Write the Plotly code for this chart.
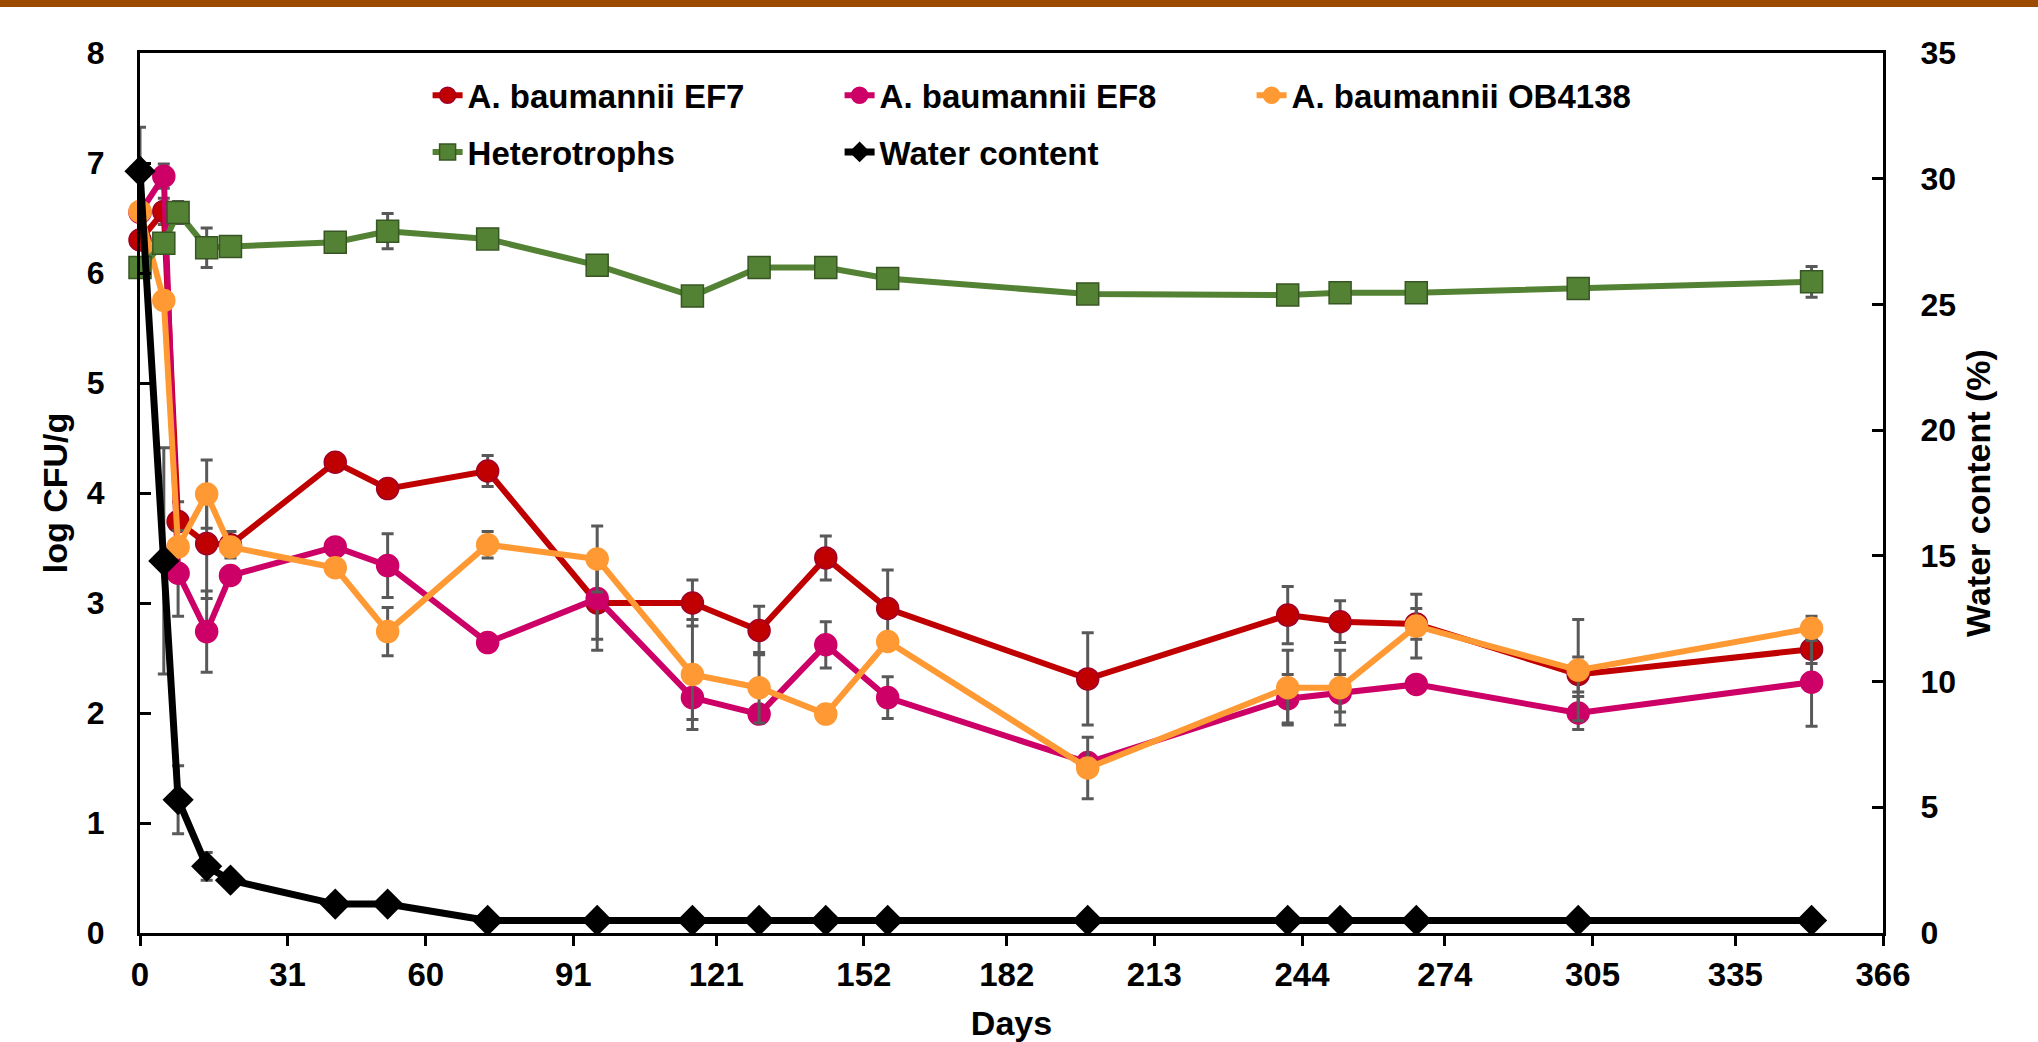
import plotly.graph_objects as go

# ---------------- data ----------------
days = [0, 5, 8, 14, 19, 41, 52, 73, 96, 116, 130, 144, 157, 199, 241, 252, 268, 302, 351]

ef7 = [6.30, 6.56, 3.74, 3.54, 3.53, 4.28, 4.04, 4.20, 3.00, 3.00, 2.75, 3.41, 2.95, 2.31, 2.89, 2.83, 2.81, 2.35, 2.58]
ef7_err = [0.05, 0.12, 0.18, 0.50, 0.12, 0.04, 0.05, 0.14, 0.43, 0.21, 0.22, 0.20, 0.35, 0.42, 0.26, 0.19, 0.14, 0.16, 0.13]

ef8 = [6.55, 6.88, 3.27, 2.74, 3.25, 3.51, 3.34, 2.64, 3.04, 2.14, 1.99, 2.62, 2.14, 1.55, 2.13, 2.18, 2.26, 2.00, 2.28]
ef8_err = [0.05, 0.11, 0.39, 0.37, 0.05, 0.05, 0.29, 0.05, 0.37, 0.20, 0.05, 0.21, 0.19, 0.05, 0.22, 0.17, 0.05, 0.15, 0.40]

ob4138 = [6.56, 5.75, 3.51, 3.99, 3.51, 3.32, 2.74, 3.53, 3.40, 2.35, 2.23, 1.99, 2.65, 1.50, 2.23, 2.23, 2.79, 2.39, 2.77]
ob4138_err = [0.05, 0.05, 0.05, 0.31, 0.05, 0.05, 0.22, 0.12, 0.30, 0.50, 0.32, 0.05, 0.05, 0.28, 0.34, 0.34, 0.29, 0.46, 0.11]

hetero = [6.05, 6.27, 6.55, 6.23, 6.24, 6.28, 6.38, 6.31, 6.07, 5.79, 6.05, 6.05, 5.95, 5.81, 5.80, 5.82, 5.82, 5.86, 5.92]
hetero_err = [0.03, 0.03, 0.10, 0.18, 0.03, 0.07, 0.16, 0.03, 0.07, 0.08, 0.03, 0.03, 0.03, 0.03, 0.03, 0.03, 0.03, 0.03, 0.14]

water = [30.3, 14.8, 5.3, 2.65, 2.1, 1.15, 1.15, 0.5, 0.5, 0.5, 0.5, 0.5, 0.5, 0.5, 0.5, 0.5, 0.5, 0.5, 0.5]
water_err = [1.75, 4.5, 1.35, 0.55, 0.1, 0.1, 0.1, 0, 0, 0, 0, 0, 0, 0, 0, 0, 0, 0, 0]

x_ticks = [0, 31, 60, 91, 121, 152, 182, 213, 244, 274, 305, 335, 366]

# ---------------- style ----------------
FONT = "Liberation Sans, Arial, sans-serif"
ERR_COLOR = "#595959"

def err(vals):
    return dict(type="data", array=vals, visible=True, color=ERR_COLOR, thickness=3, width=6)

fig = go.Figure()

series = [
    ("A. baumannii EF7", ef7, ef7_err, "#C00000", "#A00028", "circle", "legend"),
    ("A. baumannii EF8", ef8, ef8_err, "#CC0066", "#CC0066", "circle", "legend"),
    ("A. baumannii OB4138", ob4138, ob4138_err, "#FF9933", "#FF9933", "circle", "legend"),
    ("Heterotrophs", hetero, hetero_err, "#548235", "#375623", "square", "legend2"),
]
for name, vals, e, col, edge, sym, leg in series:
    fig.add_trace(go.Scatter(
        x=days, y=vals, name=name, mode="lines+markers",
        line=dict(color=col, width=6),
        marker=dict(symbol=sym, size=22, color=col, line=dict(color=edge, width=1.5)),
        error_y=err(e), cliponaxis=False, legend=leg,
    ))

fig.add_trace(go.Scatter(
    x=days, y=water, name="Water content", mode="lines+markers", yaxis="y2",
    line=dict(color="black", width=7),
    marker=dict(symbol="diamond", size=24, color="black"),
    error_y=err(water_err), cliponaxis=False, legend="legend2",
))

tick_font = dict(family=FONT, size=32, color="black", weight="bold")
xtick_font = dict(family=FONT, size=33, color="black", weight="bold")
title_font = dict(family=FONT, size=34, color="black", weight="bold")
legend_font = dict(family=FONT, size=33, color="black", weight="bold")

fig.update_layout(
    width=2038, height=1042,
    margin=dict(l=140, r=155, t=53, b=109, autoexpand=False),
    paper_bgcolor="white", plot_bgcolor="white",
    font=dict(family=FONT, color="black"),
    showlegend=True,
    xaxis=dict(
        range=[0, 366], tickvals=x_ticks, ticktext=[str(v) for v in x_ticks],
        ticks="outside", ticklen=10, tickwidth=2.5, tickcolor="black",
        showline=True, linewidth=3, linecolor="black", mirror=True,
        showgrid=False, zeroline=False, tickfont=xtick_font, ticklabelstandoff=0,
        automargin=False,
        title=dict(text="Days", font=title_font, standoff=21),
    ),
    yaxis=dict(
        range=[0, 8], dtick=1, ticks="inside", ticklen=11, tickwidth=2.5, tickcolor="black",
        showline=True, linewidth=3, linecolor="black", mirror=True,
        showgrid=False, zeroline=False, tickfont=tick_font, ticklabelstandoff=26,
        automargin=False,
        title=dict(text="log CFU/g", font=title_font, standoff=9),
    ),
    yaxis2=dict(
        overlaying="y", side="right", range=[0, 35], dtick=5,
        ticks="inside", ticklen=11, tickwidth=2.5, tickcolor="black",
        showline=True, linewidth=3, linecolor="black",
        showgrid=False, zeroline=False, tickfont=tick_font, ticklabelstandoff=28,
        automargin=False,
        title=dict(text="Water content (%)", font=title_font, standoff=12),
    ),
    legend=dict(
        orientation="h", x=0.165, xanchor="left", y=0.952, yanchor="middle",
        entrywidth=367, entrywidthmode="pixels", bgcolor="rgba(0,0,0,0)",
        font=legend_font, tracegroupgap=0, itemsizing="trace",
    ),
    legend2=dict(
        orientation="h", x=0.165, xanchor="left", y=0.8875, yanchor="middle",
        entrywidth=367, entrywidthmode="pixels", bgcolor="rgba(0,0,0,0)",
        font=legend_font, tracegroupgap=0, itemsizing="trace",
    ),
    shapes=[dict(
        type="rect", xref="paper", yref="paper",
        x0=-140 / 1743, x1=(2038 - 140) / 1743,
        y0=(933 - 7) / 880, y1=(933 + 2) / 880,
        fillcolor="#9C4A00", line=dict(width=0), layer="above",
    )],
)

fig.write_html(
    "out.html",
    config={"displayModeBar": False},
    post_script="document.body.style.margin='0';document.body.style.overflow='hidden';",
)
